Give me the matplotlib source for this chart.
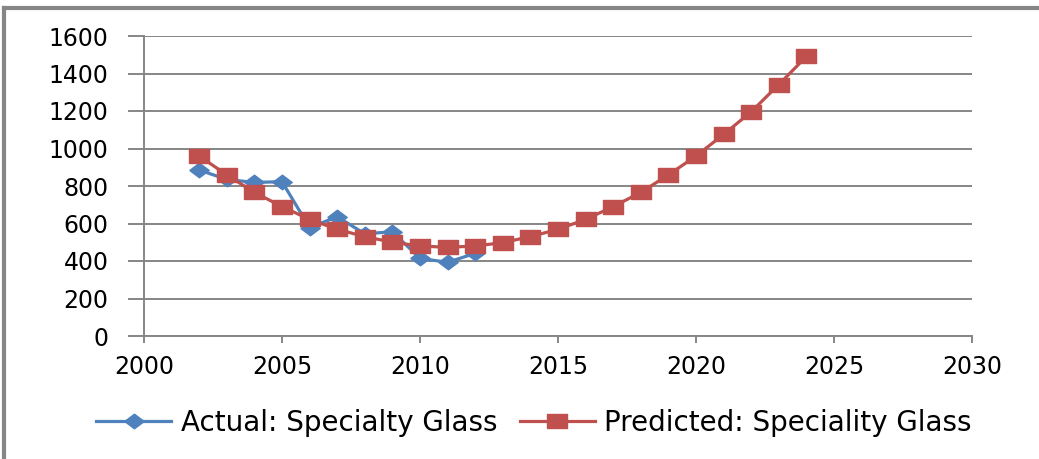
import numpy as np
import matplotlib.pyplot as plt
from matplotlib.lines import Line2D

# Values
actual_years = [2002, 2003, 2004, 2005, 2006, 2007, 2008, 2009, 2010, 2011, 2012]
actual_vals = [885, 835, 819, 823, 578, 636, 545, 556, 414, 393, 441]

pred_years = list(range(2002, 2025))
pred_vals = [960, 859, 766, 690, 622, 569, 530, 500, 480, 473, 480, 498, 530,
             569, 622, 690, 766, 859, 960, 1075, 1196, 1341, 1491]

xticks = [2000, 2005, 2010, 2015, 2020, 2025, 2030]
yticks = [0, 200, 400, 600, 800, 1000, 1200, 1400, 1600]

blue = '#4F81BD'
red = '#C0504D'
grey = '#868686'

W, H = 1039, 459
fig = plt.figure(figsize=(W / 100, H / 100), dpi=100)
ax = fig.add_axes([144 / W, 1 - 336 / H, (972 - 144) / W, 300 / H])

# wide flat markers like the original
sq = [(-1, -0.68), (1, -0.68), (1, 0.68), (-1, 0.68), (-1, -0.68)]
dia = [(-1, 0), (0, -0.75), (1, 0), (0, 0.75), (-1, 0)]

ax.plot(actual_years, actual_vals, color=blue, lw=2.3, marker=dia, ms=14,
        mec=blue, mfc=blue, label='Actual: Specialty Glass', zorder=3)
ax.plot(pred_years, pred_vals, color=red, lw=2.3, marker=sq, ms=15,
        mec=red, mfc=red, label='Predicted: Speciality Glass', zorder=4)

ax.set_xlim(2000, 2030)
ax.set_ylim(0, 1600)
ax.set_xticks(xticks)
ax.set_yticks(yticks)
ax.yaxis.grid(True, color=grey, lw=1.4)
ax.set_axisbelow(True)
for s in ['top', 'right']:
    ax.spines[s].set_visible(False)
for s in ['left', 'bottom']:
    ax.spines[s].set_color(grey)
    ax.spines[s].set_linewidth(1.4)

ax.tick_params(axis='y', length=11.5, width=1.4, color=grey, pad=14, labelsize=17)
ax.tick_params(axis='x', length=5, width=1.4, color=grey, pad=9, labelsize=17)

fig.legend(loc='center', bbox_to_anchor=(534 / W, 1 - 423 / H), ncol=2,
           frameon=False, fontsize=20, handlelength=2.7, handletextpad=0.35,
           columnspacing=0.8, markerscale=1.0)

# outer chart border (only top and left edges are inside the picture)
y_top = 1 - 8 / H
x_left = 4 / W
fig.add_artist(Line2D([x_left, 1.0], [y_top, y_top], transform=fig.transFigure,
                      color=grey, lw=3))
fig.add_artist(Line2D([x_left, x_left], [0.0, y_top], transform=fig.transFigure,
                      color=grey, lw=3))

fig.savefig('out.png', dpi=100)
